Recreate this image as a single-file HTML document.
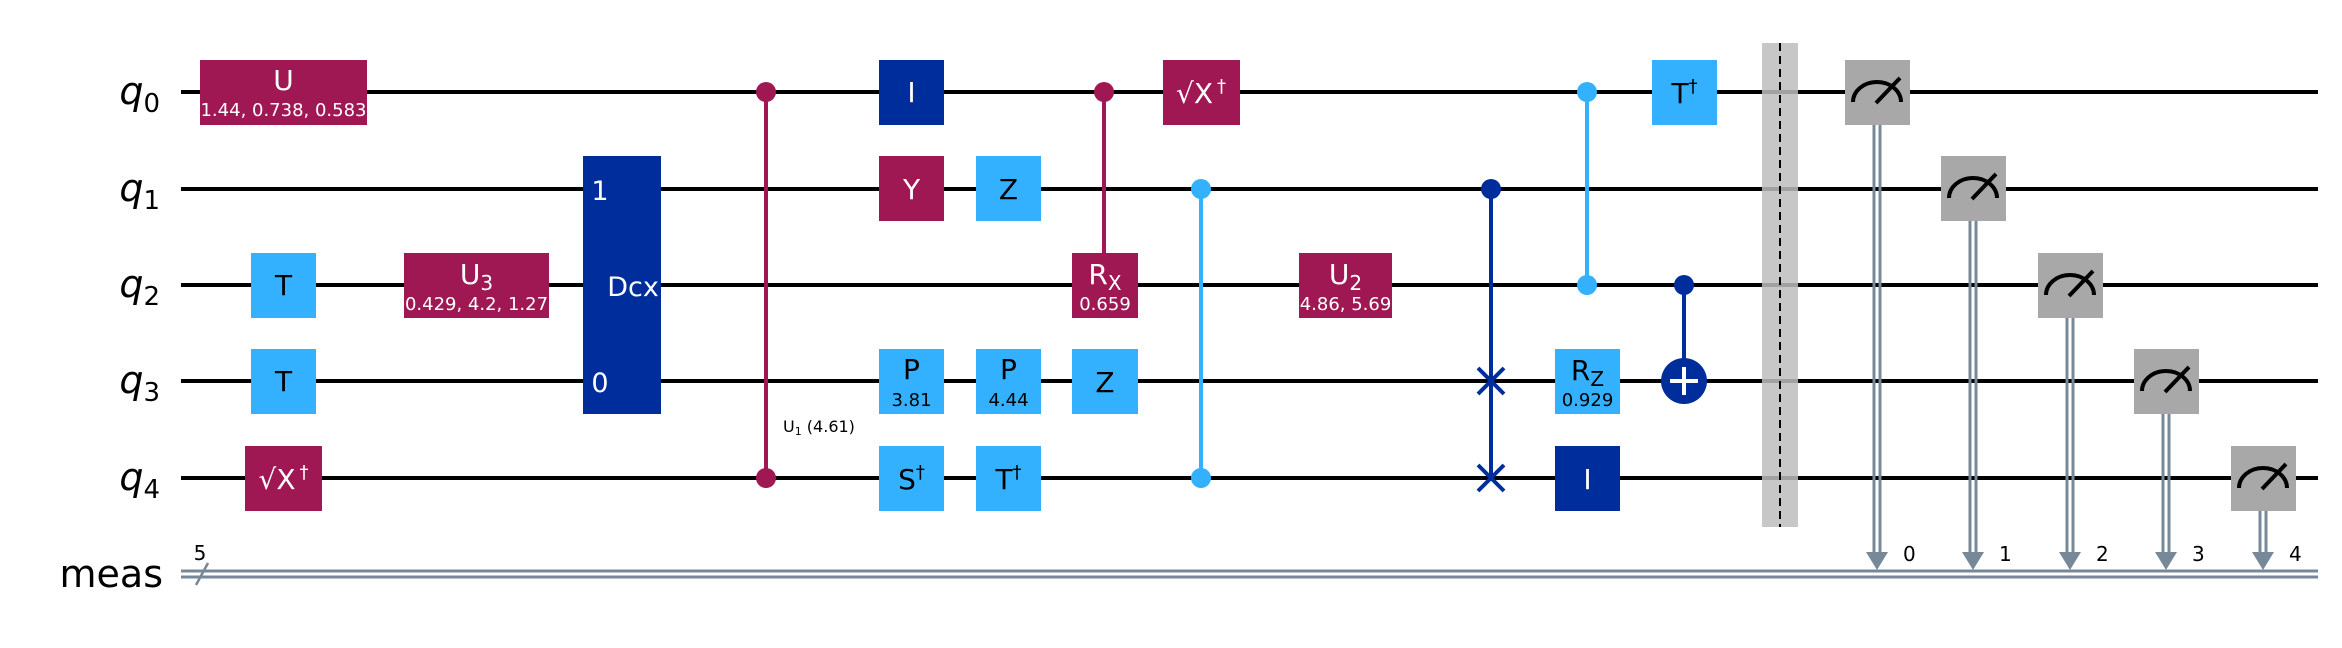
<!DOCTYPE html>
<html><head><meta charset="utf-8"><style>
html,body{margin:0;padding:0;background:#fff;}
svg{display:block;font-family:"DejaVu Sans","Liberation Sans",sans-serif;}
</style></head><body>
<svg width="2342" height="648" viewBox="0 0 2342 648" xmlns="http://www.w3.org/2000/svg">
<rect width="2342" height="648" fill="#fff"/>
<g stroke="#000" stroke-width="4">
<line x1="181" y1="92" x2="2318" y2="92"/>
<line x1="181" y1="189" x2="2318" y2="189"/>
<line x1="181" y1="285" x2="2318" y2="285"/>
<line x1="181" y1="381" x2="2318" y2="381"/>
<line x1="181" y1="478" x2="2318" y2="478"/>
</g>
<g stroke="#778899" stroke-width="3">
<line x1="181" y1="571" x2="2318" y2="571"/>
<line x1="181" y1="577" x2="2318" y2="577"/>
</g>
<line x1="196" y1="585" x2="208" y2="563" stroke="#778899" stroke-width="2.5"/>
<text x="200" y="560" font-size="20" text-anchor="middle">5</text>
<g font-size="38" font-style="italic" text-anchor="end">
<text x="160" y="104">q<tspan font-size="26" font-style="normal" dy="8">0</tspan></text>
<text x="160" y="201">q<tspan font-size="26" font-style="normal" dy="8">1</tspan></text>
<text x="160" y="297">q<tspan font-size="26" font-style="normal" dy="8">2</tspan></text>
<text x="160" y="393">q<tspan font-size="26" font-style="normal" dy="8">3</tspan></text>
<text x="160" y="490">q<tspan font-size="26" font-style="normal" dy="8">4</tspan></text>
</g>
<text x="163" y="587" font-size="38" text-anchor="end">meas</text>

<rect x="1762" y="43" width="36" height="484" fill="#bdbdbd" opacity="0.85"/>
<line x1="1780" y1="43" x2="1780" y2="527" stroke="#000" stroke-width="2" stroke-dasharray="8,5"/>

<line x1="766" y1="92" x2="766" y2="478" stroke="#9f1853" stroke-width="4"/>
<circle cx="766" cy="92" r="10" fill="#9f1853"/><circle cx="766" cy="478" r="10" fill="#9f1853"/>
<text x="783" y="432" font-size="16">U<tspan font-size="11" dy="3">1</tspan><tspan dy="-3"> (4.61)</tspan></text>

<line x1="1104" y1="92" x2="1104" y2="253" stroke="#9f1853" stroke-width="4"/>
<circle cx="1104" cy="92" r="10" fill="#9f1853"/>

<line x1="1201" y1="189" x2="1201" y2="478" stroke="#33b1ff" stroke-width="4"/>
<circle cx="1201" cy="189" r="10" fill="#33b1ff"/><circle cx="1201" cy="478" r="10" fill="#33b1ff"/>

<line x1="1491" y1="189" x2="1491" y2="478" stroke="#002d9c" stroke-width="4"/>
<circle cx="1491" cy="189" r="10" fill="#002d9c"/>
<g stroke="#002d9c" stroke-width="4">
<line x1="1478" y1="368" x2="1504" y2="394"/><line x1="1478" y1="394" x2="1504" y2="368"/>
<line x1="1478" y1="465" x2="1504" y2="491"/><line x1="1478" y1="491" x2="1504" y2="465"/>
</g>

<line x1="1587" y1="92" x2="1587" y2="285" stroke="#33b1ff" stroke-width="4"/>
<circle cx="1587" cy="92" r="10" fill="#33b1ff"/><circle cx="1587" cy="285" r="10" fill="#33b1ff"/>

<line x1="1684" y1="285" x2="1684" y2="381" stroke="#002d9c" stroke-width="4"/>
<circle cx="1684" cy="285" r="10" fill="#002d9c"/>
<circle cx="1684" cy="381" r="23" fill="#002d9c"/>
<g stroke="#fff" stroke-width="4"><line x1="1670" y1="381" x2="1698" y2="381"/><line x1="1684" y1="367" x2="1684" y2="395"/></g>

<g font-size="28" fill="#fff" text-anchor="middle">
<rect x="200" y="60" width="167" height="65" fill="#9f1853"/>
<text x="283.5" y="90">U</text><text x="283.5" y="116" font-size="18">1.44, 0.738, 0.583</text>

<rect x="251" y="253" width="65" height="65" fill="#33b1ff"/><text x="283.5" y="295" fill="#000">T</text>
<rect x="251" y="349" width="65" height="65" fill="#33b1ff"/><text x="283.5" y="391" fill="#000">T</text>
<rect x="245" y="446" width="77" height="65" fill="#9f1853"/><text x="283.5" y="489">√X<tspan font-size="18" dx="4" dy="-11">†</tspan></text>

<rect x="404" y="253" width="145" height="65" fill="#9f1853"/>
<text x="476.5" y="284">U<tspan font-size="20" dy="6">3</tspan></text><text x="476.5" y="310" font-size="18">0.429, 4.2, 1.27</text>

<rect x="583" y="156" width="78" height="258" fill="#002d9c"/>
<text x="600" y="200" font-size="27">1</text><text x="600" y="392" font-size="27">0</text>
<text x="633" y="296" font-size="27">Dcx</text>

<rect x="879" y="60" width="65" height="65" fill="#002d9c"/><text x="911.5" y="102">I</text>
<rect x="879" y="156" width="65" height="65" fill="#9f1853"/><text x="911.5" y="199">Y</text>
<rect x="976" y="156" width="65" height="65" fill="#33b1ff"/><text x="1008.5" y="199" fill="#000">Z</text>
<rect x="879" y="349" width="65" height="65" fill="#33b1ff"/><text x="911.5" y="379" fill="#000">P</text><text x="911.5" y="406" fill="#000" font-size="18">3.81</text>
<rect x="976" y="349" width="65" height="65" fill="#33b1ff"/><text x="1008.5" y="379" fill="#000">P</text><text x="1008.5" y="406" fill="#000" font-size="18">4.44</text>
<rect x="1072" y="349" width="66" height="65" fill="#33b1ff"/><text x="1105" y="392" fill="#000">Z</text>
<rect x="879" y="446" width="65" height="65" fill="#33b1ff"/><text x="911.5" y="489" fill="#000">S<tspan font-size="18" dy="-11">†</tspan></text>
<rect x="976" y="446" width="65" height="65" fill="#33b1ff"/><text x="1008.5" y="489" fill="#000">T<tspan font-size="18" dy="-11">†</tspan></text>

<rect x="1072" y="253" width="66" height="65" fill="#9f1853"/>
<text x="1105" y="284">R<tspan font-size="20" dy="6">X</tspan></text><text x="1105" y="310" font-size="18">0.659</text>
<rect x="1163" y="60" width="77" height="65" fill="#9f1853"/><text x="1201" y="103">√X<tspan font-size="18" dx="4" dy="-11">†</tspan></text>
<rect x="1299" y="253" width="93" height="65" fill="#9f1853"/>
<text x="1345.5" y="284">U<tspan font-size="20" dy="6">2</tspan></text><text x="1345.5" y="310" font-size="18">4.86, 5.69</text>

<rect x="1555" y="349" width="65" height="65" fill="#33b1ff"/>
<text x="1587.5" y="380" fill="#000">R<tspan font-size="20" dy="6">Z</tspan></text><text x="1587.5" y="406" fill="#000" font-size="18">0.929</text>
<rect x="1555" y="446" width="65" height="65" fill="#002d9c"/><text x="1587.5" y="489">I</text>
<rect x="1652" y="60" width="65" height="65" fill="#33b1ff"/><text x="1684.5" y="103" fill="#000">T<tspan font-size="18" dy="-11">†</tspan></text>
</g>

<g stroke="#778899" stroke-width="3">
<line x1="1874" y1="125" x2="1874" y2="556"/><line x1="1880" y1="125" x2="1880" y2="556"/>
<line x1="1970" y1="221" x2="1970" y2="556"/><line x1="1976" y1="221" x2="1976" y2="556"/>
<line x1="2067" y1="318" x2="2067" y2="556"/><line x1="2073" y1="318" x2="2073" y2="556"/>
<line x1="2163" y1="414" x2="2163" y2="556"/><line x1="2169" y1="414" x2="2169" y2="556"/>
<line x1="2260" y1="511" x2="2260" y2="556"/><line x1="2266" y1="511" x2="2266" y2="556"/>
</g>
<g fill="#778899">
<polygon points="1866,552 1888,552 1877,570"/>
<polygon points="1962,552 1984,552 1973,570"/>
<polygon points="2059,552 2081,552 2070,570"/>
<polygon points="2155,552 2177,552 2166,570"/>
<polygon points="2252,552 2274,552 2263,570"/>
</g>
<g font-size="20" fill="#000">
<text x="1903" y="561">0</text><text x="1999" y="561">1</text><text x="2096" y="561">2</text><text x="2192" y="561">3</text><text x="2289" y="561">4</text>
</g>
<g fill="#a8a8a8">
<rect x="1845" y="60" width="65" height="65"/>
<rect x="1941" y="156" width="65" height="65"/>
<rect x="2038" y="253" width="65" height="65"/>
<rect x="2134" y="349" width="65" height="65"/>
<rect x="2231" y="446" width="65" height="65"/>
</g>
<g fill="none" stroke="#000" stroke-width="4">
<path d="M1853,102 A24,20 0 0 1 1901,102"/><line x1="1876" y1="103" x2="1900" y2="78"/>
<path d="M1949,198 A24,20 0 0 1 1997,198"/><line x1="1972" y1="199" x2="1996" y2="174"/>
<path d="M2046,295 A24,20 0 0 1 2094,295"/><line x1="2069" y1="296" x2="2093" y2="271"/>
<path d="M2142,391 A24,20 0 0 1 2190,391"/><line x1="2165" y1="392" x2="2189" y2="367"/>
<path d="M2239,488 A24,20 0 0 1 2287,488"/><line x1="2262" y1="489" x2="2286" y2="464"/>
</g>
</svg>
</body></html>
